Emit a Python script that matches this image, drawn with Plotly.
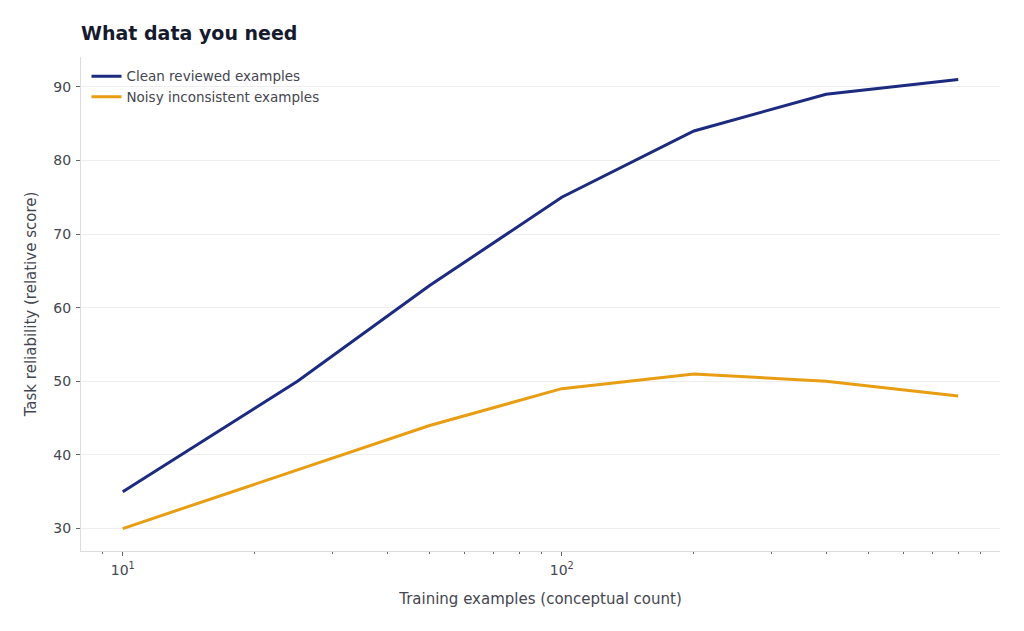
import numpy as np
import plotly.graph_objects as go

x_counts = [10, 25, 50, 100, 200, 400, 800]
clean_scores = [35, 50, 63, 75, 84, 89, 91]
noisy_scores = [30, 38, 44, 49, 51, 50, 48]
series_names = ["Clean reviewed examples", "Noisy inconsistent examples"]
y_ticks = [30, 40, 50, 60, 70, 80, 90]
x_major = [10, 100]
x_major_labels = ["10<sup>1</sup>", "10<sup>2</sup>"]
x_minor = [9, 20, 30, 40, 50, 60, 70, 80, 90, 200, 300, 400, 500, 600, 700, 800, 900]

FONT = "DejaVu Sans"
TXT = "#444650"

fig = go.Figure()
fig.add_trace(go.Scatter(x=x_counts, y=clean_scores, mode="lines", name=series_names[0],
                         line=dict(color="#1c2a80", width=3)))
fig.add_trace(go.Scatter(x=x_counts, y=noisy_scores, mode="lines", name=series_names[1],
                         line=dict(color="#e89d12", width=3)))

lo = np.log10(10); hi = np.log10(800); pad = (hi - lo) * 0.05
ylo, yhi = min(noisy_scores), max(clean_scores); ypad = (yhi - ylo) * 0.05

fig.update_layout(
    width=1024, height=631,
    margin=dict(l=81, r=24, t=57, b=80),
    paper_bgcolor="white", plot_bgcolor="white",
    font=dict(family=FONT, color=TXT, size=14),
    title=dict(text="<b>What data you need</b>", x=81/1024, xanchor="left",
               y=1-33/631, yanchor="middle",
               font=dict(family=FONT, size=19, color="#161a2e")),
    showlegend=True,
    legend=dict(x=0.006, y=0.992, xanchor="left", yanchor="top", bgcolor="rgba(0,0,0,0)",
                font=dict(size=13.5, color=TXT), itemwidth=30, tracegroupgap=0),
    xaxis=dict(type="log", range=[lo - pad, hi + pad],
               tickmode="array", tickvals=x_major, ticktext=x_major_labels,
               ticks="outside", ticklen=4, tickcolor="#666", tickwidth=1,
               ticklabelstandoff=2,
               showgrid=False, zeroline=False,
               showline=True, linecolor="#dddddd", linewidth=1, mirror=False,
               tickfont=dict(size=14, color=TXT),
               minor=dict(tickmode="array", tickvals=x_minor, ticks="outside", ticklen=2,
                          tickcolor="#666", showgrid=False),
               title=dict(text="Training examples (conceptual count)", font=dict(size=15, color=TXT),
                          standoff=16)),
    yaxis=dict(range=[ylo - ypad, yhi + ypad], tickmode="array", tickvals=y_ticks,
               ticks="outside", ticklen=4, tickcolor="#666", tickwidth=1,
               ticklabelstandoff=2,
               showgrid=True, gridcolor="#eeeeee", gridwidth=1, zeroline=False,
               showline=True, linecolor="#dddddd", linewidth=1,
               tickfont=dict(size=14, color=TXT),
               title=dict(text="Task reliability (relative score)", font=dict(size=15, color=TXT),
                          standoff=13)),
)

fig.write_html("out.html")
